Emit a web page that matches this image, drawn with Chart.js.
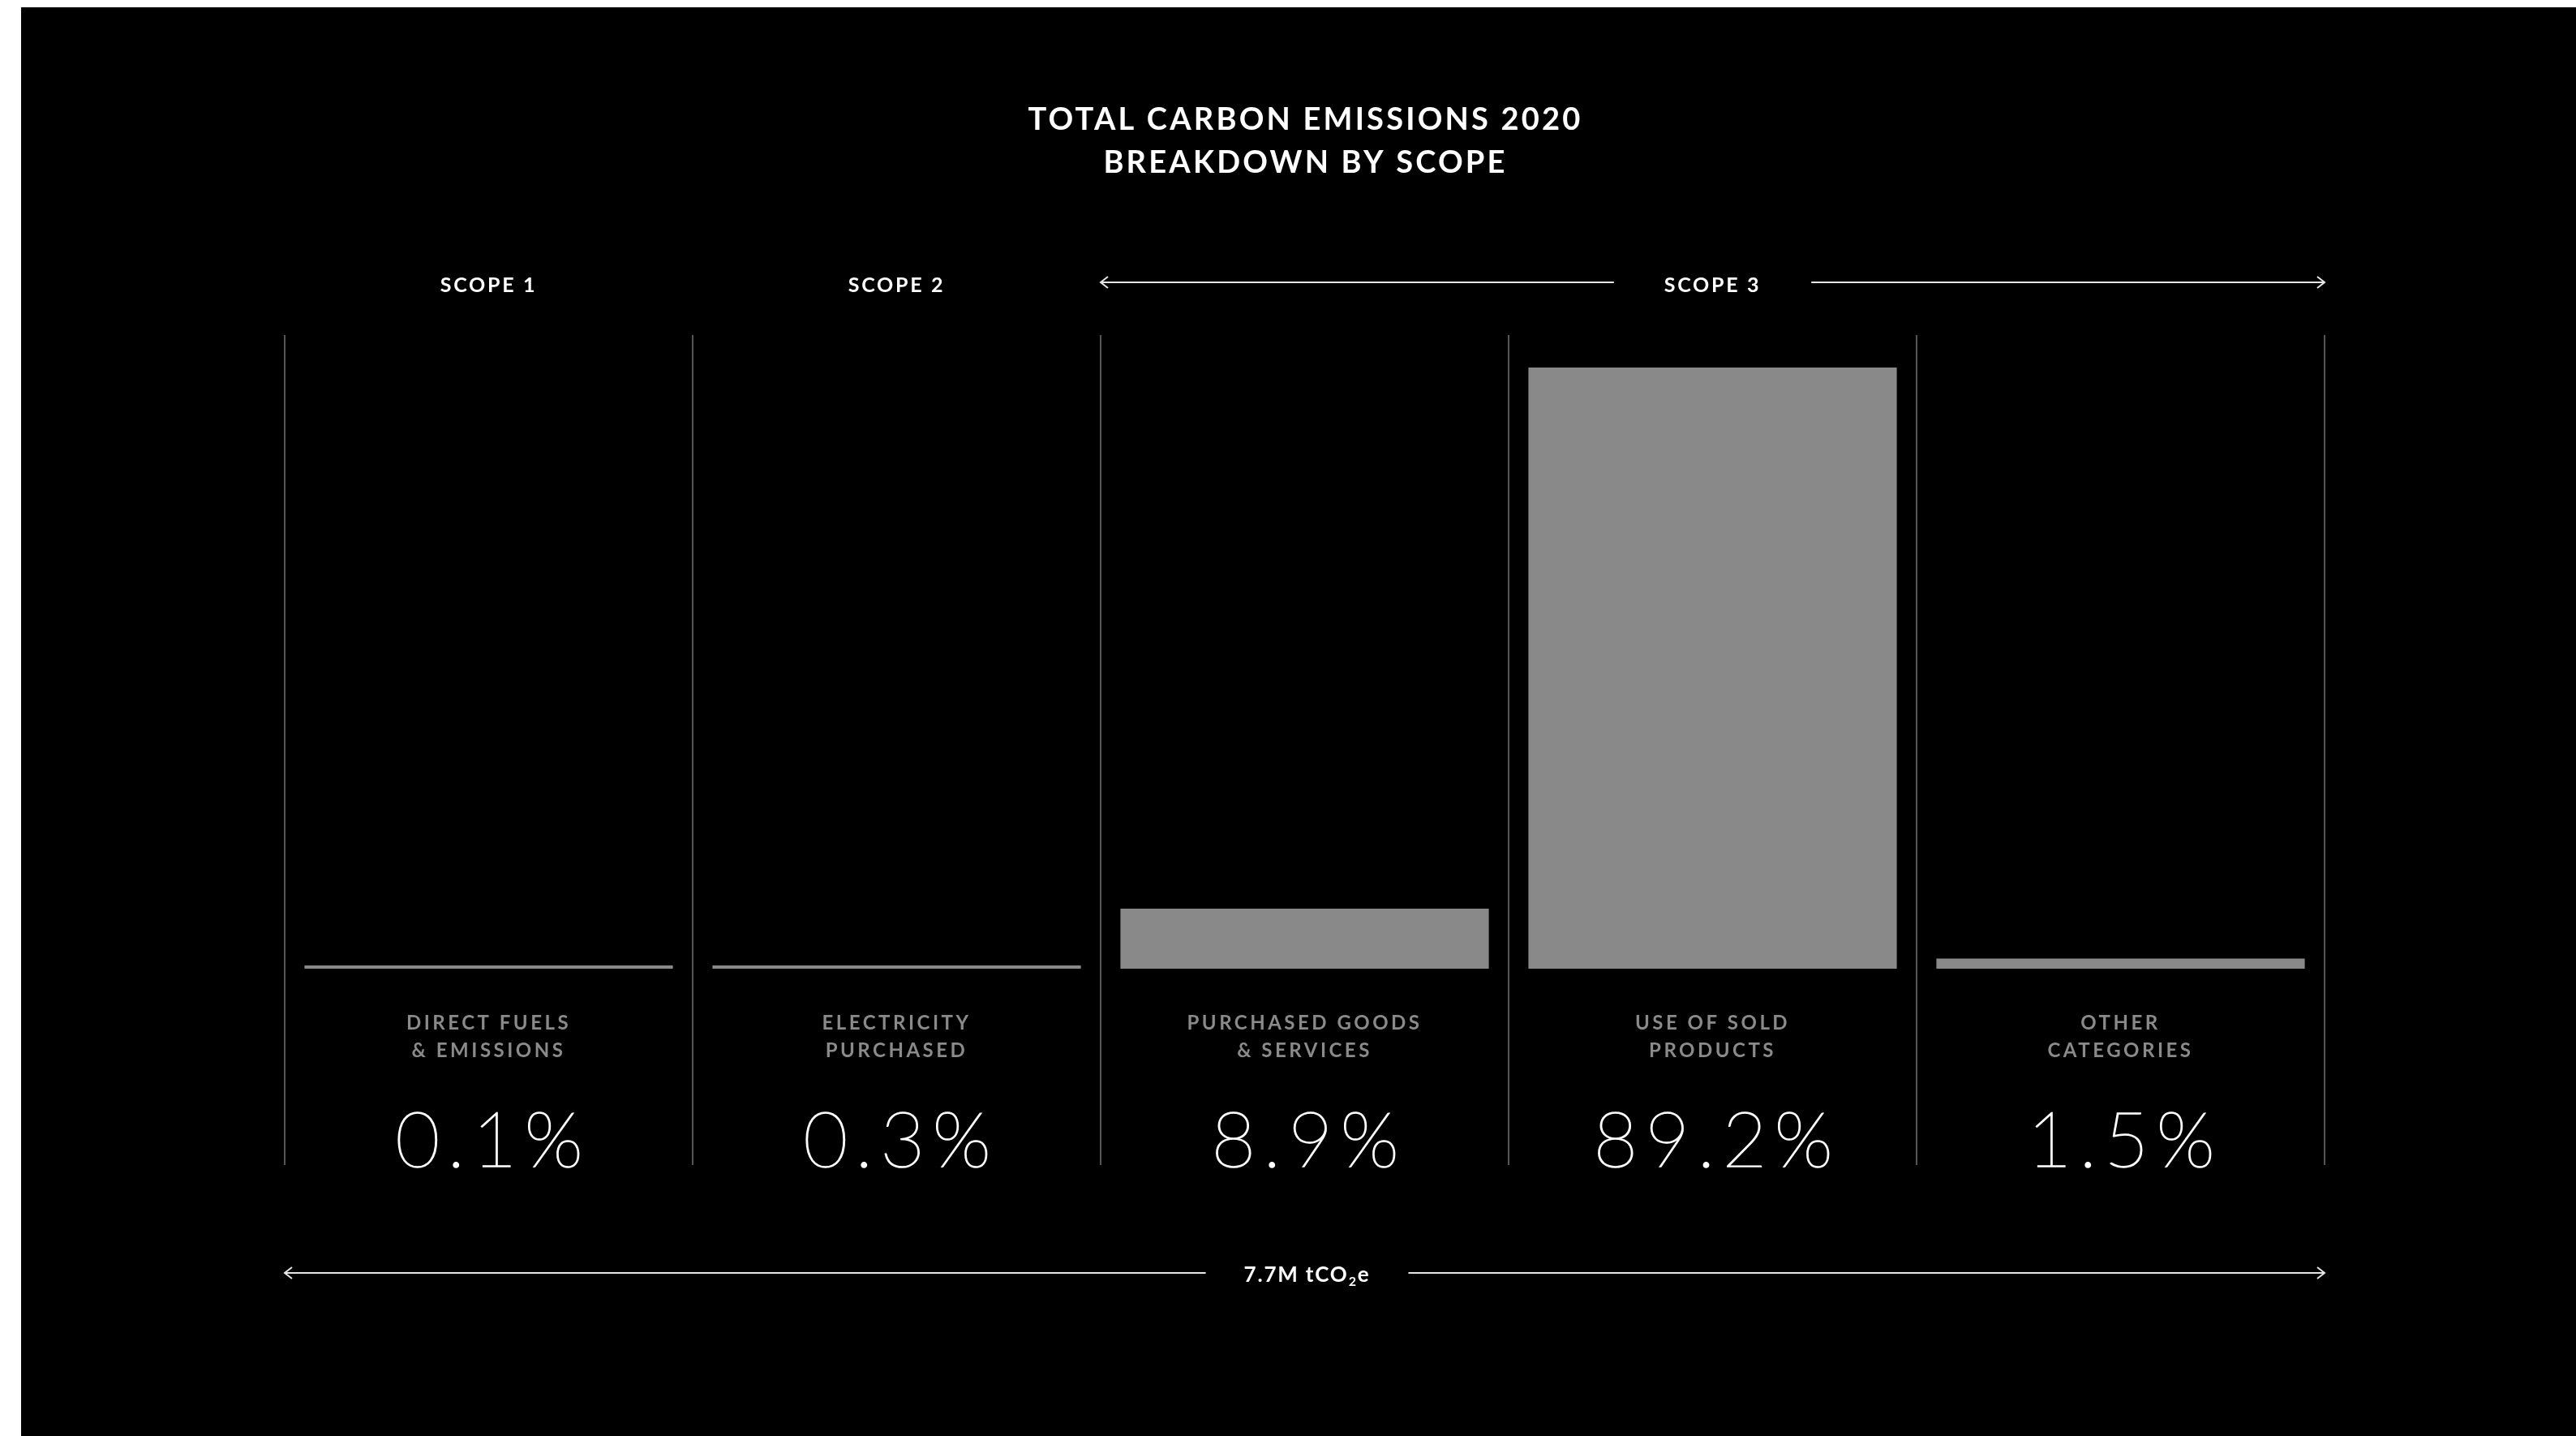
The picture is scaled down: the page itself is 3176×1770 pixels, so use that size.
<!DOCTYPE html>
<html>
<head>
<meta charset="utf-8">
<script src="https://cdn.jsdelivr.net/npm/chart.js@4.4.0/dist/chart.umd.min.js"></script>
<style>
  html, body { margin: 0; padding: 0; background: #fff; }
  #frame { position: absolute; left: 26px; top: 9px; width: 3150px; height: 1761px; background: #000; }
</style>
</head>
<body>
<div id="frame"><canvas id="scopeChart" width="3150" height="1761"></canvas></div>
<script>
// chart values
const categories = [
  ['DIRECT FUELS', '& EMISSIONS'],
  ['ELECTRICITY', 'PURCHASED'],
  ['PURCHASED GOODS', '& SERVICES'],
  ['USE OF SOLD', 'PRODUCTS'],
  ['OTHER', 'CATEGORIES']
]
const shares = [0.1, 0.3, 8.9, 89.2, 1.5]
const shareLabels = ['0.1%', '0.3%', '8.9%', '89.2%', '1.5%']

// scopes: label + first / last category index they cover
const scopeNames = ['SCOPE 1', 'SCOPE 2', 'SCOPE 3']
const scopeFirst = [0, 1, 2]
const scopeLast = [0, 1, 4]

const titleLines = ['TOTAL CARBON EMISSIONS 2020', 'BREAKDOWN BY SCOPE']
const totalLabel = ['7.7M tCO', '2', 'e']

const BOLD = '"Lato", "Open Sans", sans-serif'

function arrowHead(ctx, x, y, dir) {
  ctx.beginPath()
  ctx.moveTo(x - dir * 9, y - 7)
  ctx.lineTo(x, y)
  ctx.lineTo(x - dir * 9, y + 7)
  ctx.stroke()
}

// draws a line with text in the middle and open arrowheads at both ends
function labelledArrow(ctx, x1, x2, cx, y, drawText, textWidth, gap) {
  ctx.save()
  ctx.strokeStyle = '#e6e6e6'
  ctx.lineWidth = 2
  ctx.beginPath()
  ctx.moveTo(x1, y)
  ctx.lineTo(cx - textWidth / 2 - gap, y)
  ctx.moveTo(cx + textWidth / 2 + gap, y)
  ctx.lineTo(x2, y)
  ctx.stroke()
  arrowHead(ctx, x1, y, -1)
  arrowHead(ctx, x2, y, 1)
  ctx.restore()
  drawText()
}

const decorations = {
  id: 'decorations',
  afterDraw(chart) {
    const ctx = chart.ctx
    const area = chart.chartArea
    const x = chart.scales.x
    const half = (x.getPixelForValue(1) - x.getPixelForValue(0)) / 2
    const mid = (area.left + area.right) / 2

    ctx.save()
    ctx.textAlign = 'center'
    ctx.textBaseline = 'alphabetic'

    // title
    ctx.fillStyle = '#fff'
    ctx.font = 'bold 38px ' + BOLD
    ctx.letterSpacing = '3.2px'
    ctx.fillText(titleLines[0], mid + 1, 151)
    ctx.fillText(titleLines[1], mid + 1, 204)

    // scope headers
    ctx.font = 'bold 25px ' + BOLD
    ctx.letterSpacing = '2.7px'
    scopeNames.forEach((name, i) => {
      const first = scopeFirst[i], last = scopeLast[i]
      if (first === last) {
        ctx.fillText(name, x.getPixelForValue(first), 351)
      } else {
        const cxText = x.getPixelForValue(3)
        const w = ctx.measureText(name).width
        labelledArrow(ctx, x.getPixelForValue(first) - half, x.getPixelForValue(last) + half,
          cxText, 339, () => ctx.fillText(name, cxText, 351), w, 62)
      }
    })

    // category labels
    ctx.fillStyle = '#8a8a8a'
    ctx.font = 'bold 24px ' + BOLD
    ctx.letterSpacing = '3.5px'
    categories.forEach((lines, i) => {
      const px = x.getPixelForValue(i)
      ctx.fillText(lines[0], px, 1260)
      ctx.fillText(lines[1], px, 1294)
    })

    // percentages (hairline weight, thickened a little with a stroke)
    ctx.fillStyle = '#fff'
    ctx.strokeStyle = '#fff'
    ctx.lineWidth = 1.6
    ctx.font = '200 95px "Lato", "Roboto", sans-serif'
    ctx.letterSpacing = '9px'
    shareLabels.forEach((t, i) => {
      ctx.fillText(t, x.getPixelForValue(i) + 5, 1429)
      ctx.strokeText(t, x.getPixelForValue(i) + 5, 1429)
    })

    // total arrow
    ctx.letterSpacing = '1.8px'
    ctx.font = 'bold 26px ' + BOLD
    const w0 = ctx.measureText(totalLabel[0]).width
    ctx.font = 'bold 16px ' + BOLD
    const w1 = ctx.measureText(totalLabel[1]).width
    ctx.font = 'bold 26px ' + BOLD
    const w2 = ctx.measureText(totalLabel[2]).width
    const tw = w0 + w1 + w2
    const tcx = mid + 3
    labelledArrow(ctx, area.left, area.right, tcx, 1560, () => {
      let tx = tcx - tw / 2
      ctx.textAlign = 'left'
      ctx.font = 'bold 26px ' + BOLD
      ctx.fillText(totalLabel[0], tx, 1571)
      tx += w0
      ctx.font = 'bold 16px ' + BOLD
      ctx.fillText(totalLabel[1], tx, 1576)
      tx += w1
      ctx.font = 'bold 26px ' + BOLD
      ctx.fillText(totalLabel[2], tx, 1571)
    }, tw, 47)

    ctx.restore()
  }
}

const ctx = document.getElementById('scopeChart').getContext('2d')
const chart = new Chart(ctx, {
  type: 'bar',
  data: {
    labels: categories,
    datasets: [{
      data: shares,
      backgroundColor: '#898989',
      borderWidth: 0,
      minBarLength: 4,
      barPercentage: 0.903,
      categoryPercentage: 1
    }]
  },
  options: {
    responsive: false,
    animation: false,
    layout: { padding: { left: 325, right: 310, top: 404, bottom: 334 } },
    plugins: { legend: { display: false }, tooltip: { enabled: false } },
    scales: {
      x: {
        offset: true,
        border: { display: false },
        grid: { offset: true, color: '#555', lineWidth: 2, drawTicks: true, tickLength: 242 },
        ticks: { display: false }
      },
      y: {
        display: false,
        min: 0,
        max: 94
      }
    }
  },
  plugins: [decorations]
})
</script>
</body>
</html>
